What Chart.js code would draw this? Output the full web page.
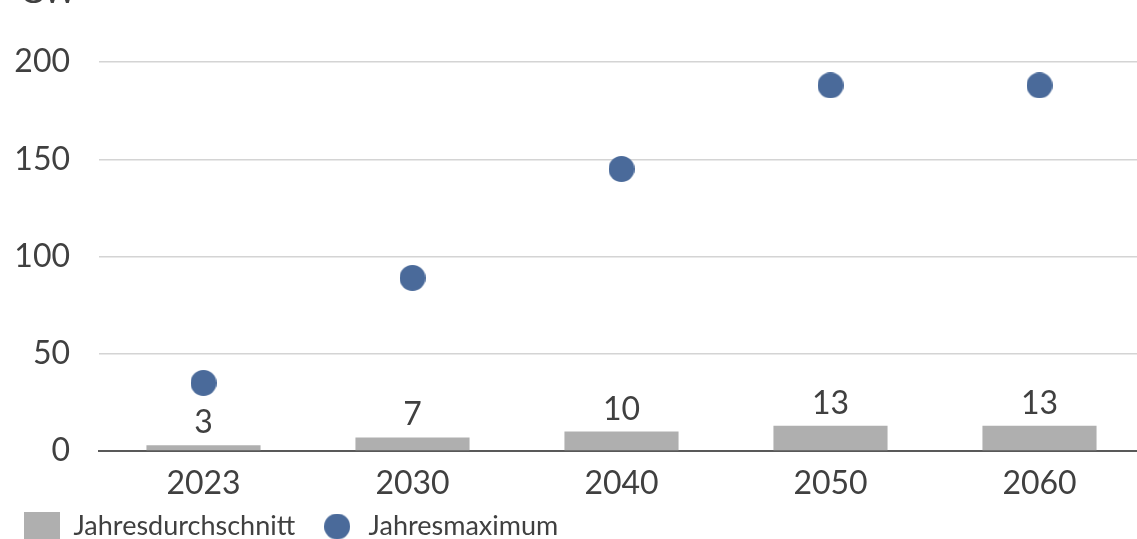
<!DOCTYPE html>
<html lang="de">
<head>
<meta charset="utf-8">
<title>Jahresdurchschnitt und Jahresmaximum</title>
<script src="https://cdn.jsdelivr.net/npm/chart.js@4.4.1/dist/chart.umd.min.js"></script>
<style>
  html, body { margin: 0; padding: 0; background: #ffffff; overflow: hidden; }
  #wrap { position: relative; width: 1137px; height: 539px; overflow: hidden; }
  #box { position: absolute; left: 0; top: 0; width: 1157px; height: 550px; }
</style>
</head>
<body>
<div id="wrap"><div id="box"><canvas id="chart"></canvas></div></div>
<script>
// Jahre auf der Kategorienachse
const years = ['2023', '2030', '2040', '2050', '2060'];
// Jahresdurchschnitt (GW)
const averageValues = [3, 7, 10, 13, 13];
// Jahresmaximum (GW)
const maximumValues = [35, 89, 145, 188, 188];
// Werte der y-Achse
const yTicks = [0, 50, 100, 150, 200];
const unitLabel = 'GW';

const TEXT = '#404040';
const GREY = '#afafaf';
const BLUE = '#4a6a9a';
const FONT = 'Lato, "Open Sans", sans-serif';

// legend markers: grey block and blue dot
function makeSquare(w, h) {
  const c = document.createElement('canvas');
  c.width = w; c.height = h;
  const g = c.getContext('2d');
  g.fillStyle = GREY;
  g.fillRect(0, 0, w, h);
  return c;
}
function makeDot(d) {
  const c = document.createElement('canvas');
  c.width = d; c.height = d;
  const g = c.getContext('2d');
  g.fillStyle = BLUE;
  g.beginPath();
  g.arc(d / 2, d / 2, d / 2, 0, Math.PI * 2);
  g.fill();
  return c;
}
const squareMarker = makeSquare(36, 30);
const dotMarker = makeDot(26);

// value labels above the bars
const barValueLabels = {
  id: 'barValueLabels',
  afterDatasetsDraw(chart) {
    const ctx = chart.ctx;
    const meta = chart.getDatasetMeta(0);
    ctx.save();
    ctx.font = '32px ' + FONT;
    ctx.fillStyle = TEXT;
    ctx.textAlign = 'center';
    ctx.textBaseline = 'alphabetic';
    meta.data.forEach((bar, i) => {
      ctx.fillText(String(averageValues[i]), bar.x, bar.y - 12);
    });
    ctx.restore();
  }
};

// unit above the value axis
const unitCaption = {
  id: 'unitCaption',
  afterDraw(chart) {
    const ctx = chart.ctx;
    ctx.save();
    ctx.font = '32px ' + FONT;
    ctx.fillStyle = TEXT;
    ctx.textAlign = 'left';
    ctx.textBaseline = 'alphabetic';
    ctx.fillText(unitLabel, 20, 3);
    ctx.restore();
  }
};

// the category axis is packed tightly above the legend; let its labels
// paint below the reserved box instead of being clipped
const roomForCategoryLabels = {
  id: 'roomForCategoryLabels',
  afterLayout(chart) {
    const x = chart.scales.x;
    x.bottom = x.top + 60;
  }
};

new Chart(document.getElementById('chart'), {
  data: {
    labels: years,
    datasets: [
      {
        type: 'bar',
        label: 'Jahresdurchschnitt',
        data: averageValues,
        backgroundColor: GREY,
        borderWidth: 0,
        categoryPercentage: 1,
        barPercentage: 0.546,
        pointStyle: squareMarker,
        order: 2
      },
      {
        type: 'line',
        label: 'Jahresmaximum',
        data: maximumValues,
        showLine: false,
        backgroundColor: BLUE,
        borderColor: BLUE,
        borderWidth: 0,
        pointRadius: 13,
        pointHoverRadius: 13,
        pointBackgroundColor: BLUE,
        pointBorderWidth: 0,
        pointStyle: dotMarker,
        clip: false,
        order: 1
      }
    ]
  },
  options: {
    responsive: true,
    maintainAspectRatio: false,
    animation: false,
    events: [],
    layout: { padding: { top: 62, left: 0, right: 0, bottom: 0 } },
    scales: {
      x: {
        offset: true,
        afterFit(scale) { scale.height = 38; },
        grid: { display: false, drawTicks: false },
        border: { display: true, color: '#595959', width: 2 },
        ticks: {
          color: TEXT,
          font: { family: FONT, size: 32 },
          padding: 13,
          maxRotation: 0
        }
      },
      y: {
        min: 0,
        max: 200,
        afterFit(scale) { scale.width = 99; },
        afterBuildTicks(scale) { scale.ticks = yTicks.map(v => ({ value: v })); },
        grid: { color: '#d4d4d4', lineWidth: 1.5, drawTicks: false },
        border: { display: false },
        ticks: {
          color: TEXT,
          font: { family: FONT, size: 32 },
          padding: 29
        }
      }
    },
    plugins: {
      title: { display: false },
      tooltip: { enabled: false },
      legend: {
        display: true,
        position: 'bottom',
        align: 'start',
        labels: {
          usePointStyle: true,
          pointStyleWidth: 36,
          padding: 24,
          color: TEXT,
          font: { family: FONT, size: 27 },
          sort: (a, b) => a.datasetIndex - b.datasetIndex
        }
      }
    }
  },
  plugins: [barValueLabels, unitCaption, roomForCategoryLabels]
});
</script>
</body>
</html>
